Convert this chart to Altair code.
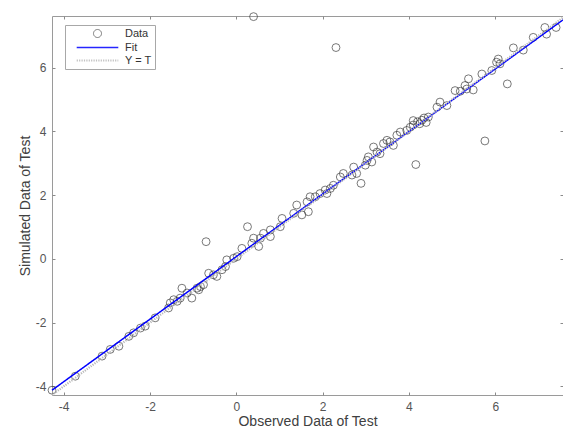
import altair as alt
import pandas as pd

# Observed (x) and simulated (y) test data
obs = [-4.27, -3.73, -3.11, -2.92, -2.72, -2.49, -2.38, -2.22, -2.11, -1.88,
       -1.57, -1.53, -1.45, -1.37, -1.30, -1.26, -1.14, -1.03, -0.91, -0.87,
       -0.83, -0.76, -0.70, -0.64, -0.53, -0.45, -0.33, -0.25, -0.22, -0.06,
       0.02, 0.13, 0.26, 0.36, 0.40, 0.52, 0.56, 0.63, 0.79, 0.79,
       1.02, 1.06, 1.33, 1.40, 1.52, 1.64, 1.67, 1.71, 1.83, 1.94,
       2.06, 2.10, 2.18, 2.25, 2.41, 2.48, 2.68, 2.72, 2.79, 2.89,
       2.99, 3.03, 3.06, 3.14, 3.18, 3.26, 3.33, 3.41, 3.49, 3.56,
       3.64, 3.72, 3.80, 3.95, 4.03, 4.10, 4.10, 4.16, 4.20, 4.25,
       4.30, 4.35, 4.40, 4.45, 4.65, 4.72, 4.88, 5.07, 5.19, 5.30,
       5.34, 5.38, 5.49, 5.69, 5.76, 5.92, 6.03, 6.07, 6.11, 6.28,
       6.42, 6.65, 6.88, 7.15, 7.19, 7.41, 2.31, 0.40]
sim = [-4.12, -3.68, -3.05, -2.84, -2.74, -2.43, -2.32, -2.17, -2.11, -1.85,
       -1.54, -1.38, -1.28, -1.33, -1.23, -0.92, -1.07, -1.23, -0.92, -0.97,
       -0.87, -0.81, 0.54, -0.45, -0.50, -0.55, -0.34, -0.24, -0.03, 0.02,
       0.07, 0.33, 1.01, 0.49, 0.65, 0.39, 0.65, 0.80, 0.91, 0.70,
       1.01, 1.27, 1.43, 1.69, 1.38, 1.79, 1.48, 1.95, 1.95, 2.05,
       2.16, 2.05, 2.21, 2.31, 2.57, 2.68, 2.63, 2.88, 2.68, 2.37,
       2.94, 3.09, 3.20, 3.04, 3.51, 3.35, 3.30, 3.62, 3.72, 3.67,
       3.56, 3.88, 3.98, 4.03, 4.13, 4.34, 4.20, 2.96, 4.30, 4.24,
       4.35, 4.42, 4.28, 4.45, 4.76, 4.92, 4.81, 5.28, 5.26, 5.44,
       5.33, 5.65, 5.30, 5.80, 3.70, 5.91, 6.17, 6.27, 6.12, 5.49,
       6.62, 6.55, 6.95, 7.26, 7.05, 7.26, 6.63, 7.60]

fit_x = [-4.27, 7.57]
fit_y = [-4.12, 7.50]
ref_x = [-4.27, 7.60]
ref_y = [-4.27, 7.60]

series_names = ["Data", "Fit", "Y = T"]
tick_values = [-4, -2, 0, 2, 4, 6]
x_domain = [-4.27, 7.57]
y_domain = [-4.27, 7.62]

W, H = 511, 379
FONT = "Liberation Sans"

pts = pd.DataFrame({"x": obs, "y": sim, "series": ["Data"] * len(obs)})
fit_df = pd.DataFrame({"x": fit_x, "y": fit_y, "series": ["Fit"] * 2})
ref_df = pd.DataFrame({"x": ref_x, "y": ref_y, "series": ["Y = T"] * 2})

color_scale = alt.Scale(domain=series_names, range=["#3a3a3a", "#0000ff", "#b8b8b8"])
shape_scale = alt.Scale(domain=series_names, range=["circle", "M-5.2,0H5.2", "M-5.2,0H5.2"])
dash_scale = alt.Scale(domain=series_names, range=[[1, 0], [1, 0], [1.2, 1.2]])
width_scale = alt.Scale(domain=series_names, range=[0.8, 2.2, 1])

xs = alt.Scale(domain=x_domain, nice=False, zero=False)
ys = alt.Scale(domain=y_domain, nice=False, zero=False)

leg = alt.Legend(title=None)

label_kw = dict(labelFont=FONT, labelFontSize=12, labelColor="#555555",
                labelExpr="toString(datum.value)",
                titleFont=FONT, titleFontSize=14, titleColor="#404040",
                titleFontWeight="normal", grid=False, domain=False)

# primary axes (labels + titles)
x_main = alt.Axis(orient="bottom", values=tick_values, ticks=False, tickSize=0,
                  labelPadding=6, titlePadding=2, title="Observed Data of Test", **label_kw)
y_main = alt.Axis(orient="left", values=tick_values, ticks=False, tickSize=0,
                  labelPadding=6, titlePadding=3, title="Simulated Data of Test", **label_kw)

tick_kw = dict(values=tick_values, labels=False, ticks=True, tickSize=3,
               tickColor="#8a8a8a", title="", grid=False, domain=False)
# inward ticks on bottom / left (axes moved across the plot)
x_in_bottom = alt.Axis(orient="top", offset=-H, **tick_kw)
y_in_left = alt.Axis(orient="right", offset=-W, **tick_kw)
# inward ticks on top / right
x_in_top = alt.Axis(orient="bottom", offset=-H, **tick_kw)
y_in_right = alt.Axis(orient="left", offset=-W, **tick_kw)

points = alt.Chart(pts).mark_point(shape="circle", filled=False, size=62,
                                   strokeWidth=0.8, opacity=0.85).encode(
    x=alt.X("x:Q", scale=xs, axis=x_main),
    y=alt.Y("y:Q", scale=ys, axis=y_main),
    color=alt.Color("series:N", scale=color_scale, legend=leg),
    shape=alt.Shape("series:N", scale=shape_scale, legend=leg),
)

fit = alt.Chart(fit_df).mark_line().encode(
    x=alt.X("x:Q", scale=xs, axis=x_in_bottom),
    y=alt.Y("y:Q", scale=ys, axis=y_in_left),
    color=alt.Color("series:N", scale=color_scale, legend=leg),
    strokeDash=alt.StrokeDash("series:N", scale=dash_scale, legend=leg),
    strokeWidth=alt.StrokeWidth("series:N", scale=width_scale, legend=leg),
)

ref = alt.Chart(ref_df).mark_line().encode(
    x=alt.X("x:Q", scale=xs, axis=x_in_top),
    y=alt.Y("y:Q", scale=ys, axis=y_in_right),
    color=alt.Color("series:N", scale=color_scale, legend=leg),
    strokeDash=alt.StrokeDash("series:N", scale=dash_scale, legend=leg),
    strokeWidth=alt.StrokeWidth("series:N", scale=width_scale, legend=leg),
)

chart = alt.layer(points, fit, ref).resolve_axis(
    x="independent", y="independent"
).properties(
    width=W, height=H,
    autosize=alt.AutoSizeParams(type="none"),
    padding={"left": 52, "top": 16, "right": 0, "bottom": 35},
    background="white",
).configure_view(
    stroke="#9a9a9a", strokeWidth=1
).configure_legend(
    orient="none", legendX=13, legendY=9,
    strokeColor="#a8a8a8", fillColor="white", padding=3,
    symbolSize=64, symbolOffset=24, labelOffset=22,
    labelFont=FONT, labelFontSize=11, labelColor="#333333",
    rowPadding=1, symbolStrokeWidth=1,
)

chart.save("out.html", embed_options={"renderer": "svg", "actions": False})
